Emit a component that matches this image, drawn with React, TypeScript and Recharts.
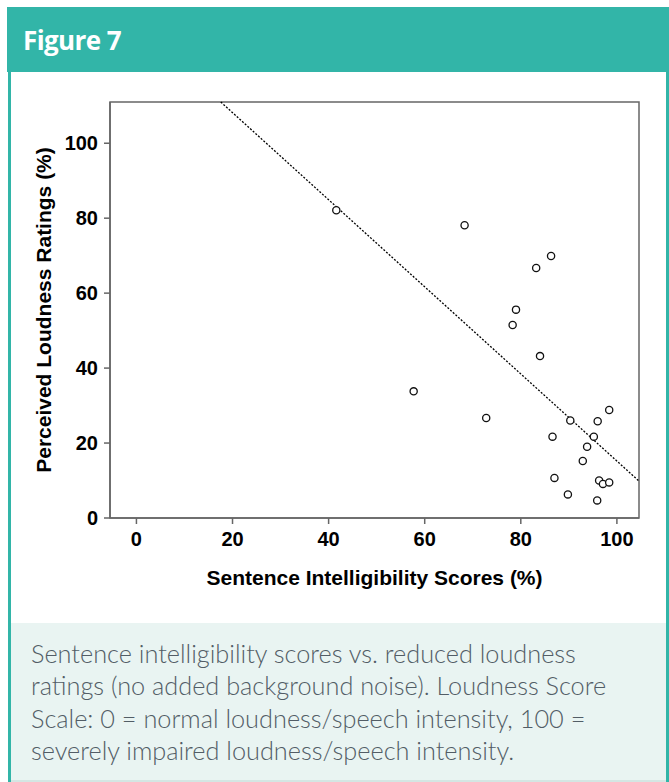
import { ReferenceArea, ReferenceLine, Scatter, ScatterChart, XAxis, YAxis } from "recharts";

const TEAL = "#32b5a8";

// sentence intelligibility (%) / perceived loudness (%)
const intelligibility = [
  41.6, 68.3, 86.3, 83.2, 79.0, 78.3, 84.0, 57.7, 72.8, 98.4, 90.3,
  96.0, 86.6, 95.2, 93.8, 92.9, 87.0, 96.3, 97.1, 98.4, 89.8, 95.9,
];
const loudness = [
  82.1, 78.1, 69.9, 66.7, 55.6, 51.5, 43.2, 33.8, 26.7, 28.8, 26.0,
  25.8, 21.7, 21.7, 19.0, 15.2, 10.7, 10.0, 9.1, 9.5, 6.3, 4.7,
];

const xTicks = [0, 20, 40, 60, 80, 100];
const yTicks = [0, 20, 40, 60, 80, 100];

const X_DOMAIN: [number, number] = [-5.5, 104.6];
const Y_DOMAIN: [number, number] = [0, 111];

// fitted regression line
const FIT_SLOPE = -1.162;
const FIT_INTERCEPT = 131.4;

const captionLines = [
  "Sentence intelligibility scores vs. reduced loudness",
  "ratings (no added background noise). Loudness Score",
  "Scale: 0 = normal loudness/speech intensity, 100 =",
  "severely impaired loudness/speech intensity.",
];

const points = intelligibility.map((x, i) => ({ x, y: loudness[i] }));

const fitStartX = (Y_DOMAIN[1] - FIT_INTERCEPT) / FIT_SLOPE;
const fitSegment = [
  { x: fitStartX, y: Y_DOMAIN[1] },
  { x: X_DOMAIN[1], y: FIT_INTERCEPT + FIT_SLOPE * X_DOMAIN[1] },
];

const axisFont = { fontFamily: "'Liberation Sans', Arial, sans-serif", fontWeight: 700 };

function YTitle(props: any) {
  const vb = props.viewBox;
  const cx = 43;
  const cy = vb.y + vb.height / 2;
  return (
    <text
      x={cx}
      y={cy}
      transform={`rotate(-90 ${cx} ${cy})`}
      textAnchor="middle"
      dominantBaseline="central"
      fontSize={21}
      fill="#000"
      {...axisFont}
    >
      Perceived Loudness Ratings (%)
    </text>
  );
}

function XTitle(props: any) {
  const vb = props.viewBox;
  return (
    <text
      x={vb.x + vb.width / 2}
      y={585}
      textAnchor="middle"
      fontSize={21}
      fill="#000"
      {...axisFont}
    >
      Sentence Intelligibility Scores (%)
    </text>
  );
}

function Dot(props: any) {
  return <circle cx={props.cx} cy={props.cy} r={3.6} fill="#fff" stroke="#111" strokeWidth={1.3} />;
}

export default function App() {
  return (
    <div
      style={{
        position: "absolute",
        left: 0,
        top: 0,
        width: 669,
        height: 782,
        background: "#fff",
        overflow: "hidden",
      }}
    >
      <div style={{ position: "absolute", left: 7, top: 7, width: 662, height: 65, background: TEAL }} />
      <div
        style={{
          position: "absolute",
          left: 23,
          top: 22,
          color: "#fff",
          fontFamily: "'Open Sans', sans-serif",
          fontWeight: 700,
          fontSize: 26,
          letterSpacing: -0.6,
          lineHeight: "36px",
        }}
      >
        Figure 7
      </div>
      <div style={{ position: "absolute", left: 8, top: 72, width: 3, height: 710, background: TEAL }} />
      <div style={{ position: "absolute", left: 666, top: 72, width: 3, height: 710, background: TEAL }} />

      <div style={{ position: "absolute", left: 0, top: 0 }}>
        <ScatterChart width={669} height={620} margin={{ top: 102, right: 30, bottom: 36, left: 40 }}>
          <ReferenceArea
            x1={X_DOMAIN[0]}
            x2={X_DOMAIN[1]}
            y1={Y_DOMAIN[0]}
            y2={Y_DOMAIN[1]}
            fill="none"
            stroke="#666"
            strokeWidth={1.5}
            ifOverflow="visible"
          />
          <XAxis
            type="number"
            dataKey="x"
            domain={X_DOMAIN}
            ticks={xTicks}
            allowDataOverflow
            height={66}
            tickSize={6}
            tickMargin={8}
            axisLine={{ stroke: "#666", strokeWidth: 1.5 }}
            tickLine={{ stroke: "#666", strokeWidth: 1.5 }}
            tick={{ fill: "#000", fontSize: 20, ...axisFont }}
            label={{ content: XTitle }}
          />
          <YAxis
            type="number"
            dataKey="y"
            domain={Y_DOMAIN}
            ticks={yTicks}
            allowDataOverflow
            width={70}
            tickSize={6}
            tickMargin={6}
            axisLine={{ stroke: "#666", strokeWidth: 1.5 }}
            tickLine={{ stroke: "#666", strokeWidth: 1.5 }}
            tick={{ fill: "#000", fontSize: 20, ...axisFont }}
            label={{ content: YTitle }}
          />
          <ReferenceLine
            segment={fitSegment}
            stroke="#000"
            strokeWidth={1.3}
            strokeDasharray="2 1.6"
            ifOverflow="visible"
          />
          <Scatter data={points} shape={Dot} isAnimationActive={false} />
        </ScatterChart>
      </div>

      <div
        style={{
          position: "absolute",
          left: 11,
          top: 623,
          width: 655,
          height: 157,
          background: "#e9f4f2",
          borderBottom: "2px solid #d4e6e3",
        }}
      />
      <div
        style={{
          position: "absolute",
          left: 31,
          top: 637,
          width: 630,
          color: "#525d66",
          fontFamily: "Lato, sans-serif",
          fontWeight: 300,
          fontSize: 25.3,
          lineHeight: "32.3px",
          whiteSpace: "nowrap",
        }}
      >
        {captionLines.map((line) => (
          <div key={line}>{line}</div>
        ))}
      </div>
    </div>
  );
}
